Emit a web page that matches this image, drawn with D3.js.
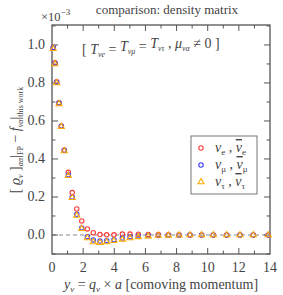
<!DOCTYPE html>
<html>
<head>
<meta charset="utf-8">
<script src="https://cdn.jsdelivr.net/npm/d3@7"></script>
<style>
  body { margin: 0; background: #fff; }
  svg text { font-family: "Liberation Serif", "DejaVu Serif", "Times New Roman", serif; fill: #444; }
</style>
</head>
<body>
<script>
const momenta = [0.08, 0.19, 0.3, 0.45, 0.6, 0.79, 1.05, 1.3, 1.59, 1.91, 2.27, 2.65, 3.08, 3.51,
  3.98, 4.52, 5.01, 5.54, 6.18, 6.83, 7.47, 8.16, 8.86, 9.61, 10.36, 11.22, 12.07, 12.93, 13.89];
const electron = [0.987, 0.906, 0.806, 0.696, 0.574, 0.447, 0.33, 0.223, 0.137, 0.074, 0.032, 0.012,
  0.002, 0.001, 0.001, 0.005, 0.005, 0.004, 0.003, 0.002, 0.001, 0.001, 0.0, 0.0, 0.0, 0.0, 0.0, 0.0, 0.0];
const muon = [0.985, 0.904, 0.804, 0.694, 0.572, 0.444, 0.317, 0.2, 0.109, 0.037, -0.009, -0.026,
  -0.032, -0.03, -0.025, -0.016, -0.009, -0.005, -0.003, -0.002, -0.001, -0.001, 0.0, 0.0, 0.0, 0.0, 0.0, 0.0, 0.0];
const tau = [0.98, 0.9, 0.8, 0.69, 0.57, 0.442, 0.312, 0.196, 0.103, 0.033, -0.016, -0.037,
  -0.04, -0.037, -0.03, -0.023, -0.016, -0.01, -0.006, -0.003, -0.002, -0.001, 0.0, 0.0, 0.0, 0.0, 0.0, 0.0, 0.0];
const xTicks = [0, 2, 4, 6, 8, 10, 12, 14];
const yTicks = [0.0, 0.2, 0.4, 0.6, 0.8, 1.0];

const width = 283;
const height = 295;
const margin = { top: 25, right: 13, bottom: 41, left: 52 };
const serif = "'Liberation Serif', 'DejaVu Serif', serif";

const svg = d3.select("body").append("svg")
  .attr("width", width)
  .attr("height", height)
  .attr("font-family", serif);

const x = d3.scaleLinear().domain([0, 14]).range([margin.left, width - margin.right]);
const y = d3.scaleLinear().domain([-0.1, 1.105]).range([height - margin.bottom, margin.top]);

const frameColor = "#555";

// zero line
svg.append("line")
  .attr("x1", x(0)).attr("x2", x(14))
  .attr("y1", y(0)).attr("y2", y(0))
  .attr("stroke", "#888")
  .attr("stroke-width", 1)
  .attr("stroke-dasharray", "4,3");

// ticks on all four sides, pointing inward
const xMinor = d3.range(1, 14, 2);
const yMinor = d3.range(-0.1, 1.11, 0.2).map((d) => +d.toFixed(1));

const tickGroup = svg.append("g").attr("stroke", frameColor).attr("stroke-width", 1);
const addX = (vals, len) => {
  vals.forEach((v) => {
    tickGroup.append("line").attr("x1", x(v)).attr("x2", x(v))
      .attr("y1", y.range()[0]).attr("y2", y.range()[0] - len);
    tickGroup.append("line").attr("x1", x(v)).attr("x2", x(v))
      .attr("y1", y.range()[1]).attr("y2", y.range()[1] + len);
  });
};
const addY = (vals, len) => {
  vals.forEach((v) => {
    tickGroup.append("line").attr("y1", y(v)).attr("y2", y(v))
      .attr("x1", x.range()[0]).attr("x2", x.range()[0] + len);
    tickGroup.append("line").attr("y1", y(v)).attr("y2", y(v))
      .attr("x1", x.range()[1]).attr("x2", x.range()[1] - len);
  });
};
addX(xTicks.slice(1, -1), 6);
addX(xMinor, 3.5);
addY(yTicks, 6);
addY(yMinor, 3.5);

// tick labels
svg.append("g").selectAll("text")
  .data(xTicks)
  .enter()
  .append("text")
  .attr("x", (d) => x(d))
  .attr("y", y.range()[0] + 18)
  .attr("text-anchor", "middle")
  .attr("font-size", 14)
  .text((d) => d);

svg.append("g").selectAll("text")
  .data(yTicks)
  .enter()
  .append("text")
  .attr("x", x.range()[0] - 7)
  .attr("y", (d) => y(d) + 4.5)
  .attr("text-anchor", "end")
  .attr("font-size", 14)
  .text((d) => d.toFixed(1));

// frame
svg.append("rect")
  .attr("x", x.range()[0]).attr("y", y.range()[1])
  .attr("width", x.range()[1] - x.range()[0])
  .attr("height", y.range()[0] - y.range()[1])
  .attr("fill", "none")
  .attr("stroke", frameColor)
  .attr("stroke-width", 1.3);

// data points
const series = [
  { values: electron, color: "#ff3b3b", shape: "circle" },
  { values: muon, color: "#3b3bff", shape: "circle" },
  { values: tau, color: "#ffaa00", shape: "triangle" },
];

const drawMarker = (g, shape, color, cx, cy) => {
  if (shape === "circle") {
    g.append("circle").attr("cx", cx).attr("cy", cy).attr("r", 2.2)
      .attr("fill", "none").attr("stroke", color).attr("stroke-width", 1.1);
  } else {
    g.append("path")
      .attr("d", d3.symbol().type(d3.symbolTriangle).size(16)())
      .attr("transform", `translate(${cx},${cy})`)
      .attr("fill", "none").attr("stroke", color).attr("stroke-width", 1.1);
  }
};

series.forEach((s) => {
  const g = svg.append("g");
  s.values.forEach((v, i) => drawMarker(g, s.shape, s.color, x(momenta[i]), y(v)));
});

// legend
const legend = svg.append("g").attr("transform", "translate(191, 136)");
legend.append("rect")
  .attr("width", 66).attr("height", 58)
  .attr("fill", "#fff")
  .attr("stroke", "#777")
  .attr("stroke-width", 1);

const legendLabels = ["e", "μ", "τ"];
legendLabels.forEach((lab, i) => {
  const ly = 12 + i * 17;
  drawMarker(legend, series[i].shape, series[i].color, 10, ly);
  const t = legend.append("text").attr("x", 24).attr("y", ly + 4).attr("font-size", 14);
  t.append("tspan").attr("font-style", "italic").text("ν");
  t.append("tspan").attr("font-size", 9).attr("dy", 3).text(lab);
  t.append("tspan").attr("dy", -3).text(" , ");
  t.append("tspan").attr("font-style", "italic").attr("text-decoration", "overline").text("ν");
  t.append("tspan").attr("font-size", 9).attr("dy", 3).text(lab);
});

// title and annotations
svg.append("text")
  .attr("x", 167).attr("y", 14)
  .attr("text-anchor", "middle")
  .attr("font-size", 13)
  .text("comparison: density matrix");

const expo = svg.append("text").attr("x", 41).attr("y", 21).attr("font-size", 12.5);
expo.append("tspan").text("×10");
expo.append("tspan").attr("font-size", 9).attr("dy", -6).text("−3");

const note = svg.append("text").attr("x", 82).attr("y", 54).attr("font-size", 14);
note.append("tspan").text("[ ");
[["T", "νe"], ["T", "νμ"], ["T", "ντ"]].forEach((p, i) => {
  note.append("tspan").attr("font-style", "italic").attr("dy", i ? -3 : 0).text(p[0]);
  note.append("tspan").attr("font-size", 8).attr("dy", 3).attr("font-style", "italic").text(p[1]);
  if (i < 2) note.append("tspan").attr("dy", -3).text(" = ");
});
note.append("tspan").attr("dy", -3).text(" , ");
note.append("tspan").attr("font-style", "italic").text("μ");
note.append("tspan").attr("font-size", 8).attr("dy", 3).attr("font-style", "italic").text("να");
note.append("tspan").attr("dy", -3).text(" ≠ 0 ]");

// axis titles
const xl = svg.append("text")
  .attr("x", 161).attr("y", 289)
  .attr("text-anchor", "middle")
  .attr("font-size", 14);
xl.append("tspan").attr("font-style", "italic").text("y");
xl.append("tspan").attr("font-size", 9).attr("dy", 3).attr("font-style", "italic").text("ν");
xl.append("tspan").attr("dy", -3).text(" = ");
xl.append("tspan").attr("font-style", "italic").text("q");
xl.append("tspan").attr("font-size", 9).attr("dy", 3).attr("font-style", "italic").text("ν");
xl.append("tspan").attr("dy", -3).text(" × ");
xl.append("tspan").attr("font-style", "italic").text("a");
xl.append("tspan").text(" [comoving momentum]");

const yl = svg.append("text")
  .attr("transform", `translate(20, 140) rotate(-90)`)
  .attr("text-anchor", "middle")
  .attr("font-size", 14);
yl.append("tspan").text("[ ");
yl.append("tspan").attr("font-style", "italic").text("ϱ");
yl.append("tspan").attr("font-size", 8).attr("dy", 3).attr("font-style", "italic").text("ν");
yl.append("tspan").attr("dy", -3).text(" ]");
yl.append("tspan").attr("font-size", 8).attr("dy", 3).attr("font-style", "italic").text("αα");
yl.append("tspan").attr("dy", -3).text("|");
yl.append("tspan").attr("font-size", 8).attr("dy", 3).text("FP");
yl.append("tspan").attr("dy", -3).text(" − ");
yl.append("tspan").attr("font-style", "italic").text("f");
yl.append("tspan").attr("font-size", 8).attr("dy", 3).attr("font-style", "italic").text("να");
yl.append("tspan").attr("dy", -3).text("|");
yl.append("tspan").attr("font-size", 8).attr("dy", 3).text("this work");
</script>
</body>
</html>
